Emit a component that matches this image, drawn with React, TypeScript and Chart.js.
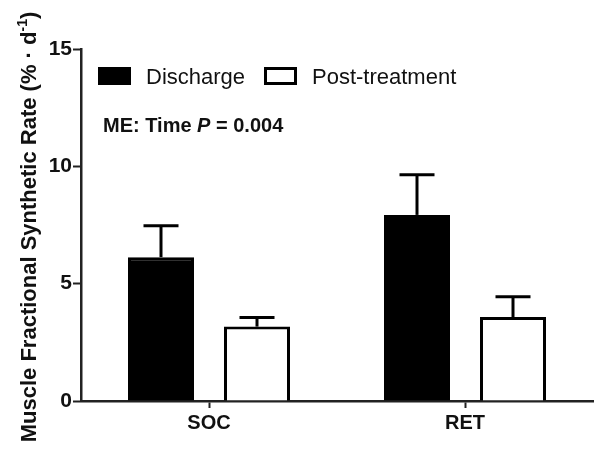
import React, { useEffect, useRef } from "react";
import { Chart, registerables } from "chart.js";

Chart.register(...registerables);

const categories = ["SOC", "RET"];
const seriesNames = ["Discharge", "Post-treatment"];
const dischargeMeans = [6.13, 7.93];
const dischargeErr = [1.34, 1.71];
const postMeans = [3.17, 3.58];
const postErr = [0.39, 0.86];
const yTicks = [0, 5, 10, 15];
const yTitleMain = "Muscle Fractional Synthetic Rate (% · d";
const yTitleSup = "-1";
const yTitleEnd = ")";
const annotationPre = "ME: Time ";
const annotationP = "P";
const annotationPost = " = 0.004";

const FONT = '"Liberation Sans", Arial, Helvetica, sans-serif';

const errorBarPlugin = {
  id: "errorBars",
  afterDatasetsDraw(chart: any) {
    const ctx = chart.ctx;
    const yScale = chart.scales.y;
    const errs = [dischargeErr, postErr];
    const means = [dischargeMeans, postMeans];
    ctx.save();
    ctx.strokeStyle = "#000";
    ctx.lineWidth = 3;
    ctx.lineCap = "butt";
    chart.data.datasets.forEach((_: any, di: number) => {
      const meta = chart.getDatasetMeta(di);
      meta.data.forEach((bar: any, i: number) => {
        const x = bar.x;
        const yBase = yScale.getPixelForValue(means[di][i]);
        const yTop = yScale.getPixelForValue(means[di][i] + errs[di][i]);
        ctx.beginPath();
        ctx.moveTo(x, yBase);
        ctx.lineTo(x, yTop);
        ctx.stroke();
        ctx.beginPath();
        ctx.moveTo(x - 17.5, yTop);
        ctx.lineTo(x + 17.5, yTop);
        ctx.stroke();
      });
    });
    ctx.restore();
  },
};

const decorPlugin = {
  id: "decor",
  afterDraw(chart: any) {
    const ctx = chart.ctx;
    ctx.save();
    // legend
    ctx.fillStyle = "#000";
    ctx.fillRect(98, 67, 33, 18);
    ctx.fillStyle = "#fff";
    ctx.fillRect(264, 67, 33, 18);
    ctx.strokeStyle = "#000";
    ctx.lineWidth = 3;
    ctx.strokeRect(265.5, 68.5, 30, 15);
    ctx.fillStyle = "#111";
    ctx.font = `22px ${FONT}`;
    ctx.textBaseline = "alphabetic";
    ctx.textAlign = "left";
    ctx.fillText(seriesNames[0], 146, 84);
    ctx.fillText(seriesNames[1], 312, 84);
    // annotation
    let x = 103;
    const by = 132;
    ctx.font = `bold 20px ${FONT}`;
    ctx.fillText(annotationPre, x, by);
    x += ctx.measureText(annotationPre).width;
    ctx.font = `italic bold 20px ${FONT}`;
    ctx.fillText(annotationP, x, by);
    x += ctx.measureText(annotationP).width;
    ctx.font = `bold 20px ${FONT}`;
    ctx.fillText(annotationPost, x, by);
    // y title
    ctx.translate(28, 227);
    ctx.rotate(-Math.PI / 2);
    const mainFont = `bold 22px ${FONT}`;
    const supFont = `bold 14px ${FONT}`;
    ctx.font = mainFont;
    const w1 = ctx.measureText(yTitleMain).width;
    const w3 = ctx.measureText(yTitleEnd).width;
    ctx.font = supFont;
    const w2 = ctx.measureText(yTitleSup).width;
    const total = w1 + w2 + w3;
    let tx = -total / 2;
    ctx.textBaseline = "alphabetic";
    ctx.font = mainFont;
    ctx.fillText(yTitleMain, tx, 8);
    tx += w1;
    ctx.font = supFont;
    ctx.fillText(yTitleSup, tx, -1);
    tx += w2;
    ctx.font = mainFont;
    ctx.fillText(yTitleEnd, tx, 8);
    ctx.restore();
  },
};

export default function App() {
  const ref = useRef<HTMLCanvasElement | null>(null);
  useEffect(() => {
    document.body.style.margin = "0";
    const canvas = ref.current;
    if (!canvas) return;
    const chart = new Chart(canvas, {
      type: "bar",
      data: {
        labels: categories,
        datasets: [
          {
            label: seriesNames[0],
            data: dischargeMeans,
            backgroundColor: "#000",
            borderColor: "#000",
            borderWidth: 3,
            borderSkipped: "bottom",
          },
          {
            label: seriesNames[1],
            data: postMeans,
            backgroundColor: "#fff",
            borderColor: "#000",
            borderWidth: 3,
            borderSkipped: "bottom",
          },
        ],
      },
      options: {
        responsive: false,
        animation: false,
        devicePixelRatio: 1,
        layout: { padding: { left: 0, top: 49, right: 8, bottom: 0 } },
        datasets: { bar: { categoryPercentage: 0.75, barPercentage: 0.6875 } },
        plugins: { legend: { display: false }, tooltip: { enabled: false } },
        scales: {
          x: {
            offset: true,
            grid: {
              display: true,
              drawOnChartArea: false,
              drawTicks: true,
              tickLength: 7,
              tickWidth: 2,
              tickColor: "#222",
              offset: false,
            },
            border: { display: true, color: "#222", width: 2.5 },
            ticks: {
              color: "#111",
              font: { family: FONT, size: 20, weight: "bold" },
              padding: 3,
            },
            afterFit(scale: any) {
              scale.height = 54;
            },
          },
          y: {
            min: 0,
            max: 15,
            afterBuildTicks(scale: any) {
              scale.ticks = yTicks.map((v) => ({ value: v }));
            },
            grid: {
              display: true,
              drawOnChartArea: false,
              drawTicks: true,
              tickLength: 8,
              tickWidth: 2,
              tickColor: "#222",
            },
            border: { display: true, color: "#222", width: 2.5 },
            ticks: {
              color: "#111",
              font: { family: FONT, size: 21, weight: "bold" },
              padding: 1,
            },
            afterFit(scale: any) {
              scale.width = 81;
            },
          },
        },
      },
      plugins: [errorBarPlugin, decorPlugin],
    } as any);
    return () => chart.destroy();
  }, []);
  return (
    <div style={{ width: 601, height: 455, background: "#fff" }}>
      <canvas ref={ref} width={601} height={455} style={{ display: "block" }} />
    </div>
  );
}
